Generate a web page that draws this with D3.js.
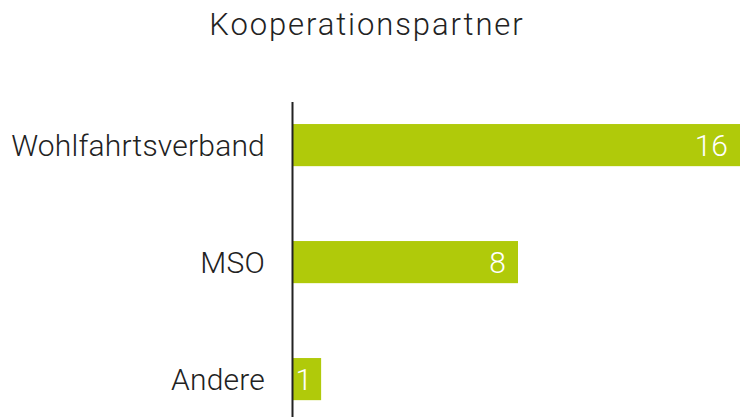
<!DOCTYPE html>
<html>
<head>
<meta charset="utf-8">
<script src="https://cdn.jsdelivr.net/npm/d3@7"></script>
<style>
  html, body { margin: 0; padding: 0; background: #fff; }
  svg { display: block; font-family: Roboto, "Open Sans", sans-serif; font-weight: 300; }
</style>
</head>
<body>
<div id="chart"></div>
<script>
'use strict';

const TITLE = 'Kooperationspartner';
const categories = ['Wohlfahrtsverband', 'MSO', 'Andere'];
const values = [16, 8, 1];

const W = 740, H = 417;
const BAR_COLOR = '#b0ca0a';

const svg = d3.select('#chart').append('svg')
  .attr('width', W)
  .attr('height', H);

svg.append('text')
  .attr('x', 367)
  .attr('y', 35)
  .attr('text-anchor', 'middle')
  .attr('font-size', '31px')
  .attr('letter-spacing', '1.9px')
  .attr('fill', '#222')
  .text(TITLE);

// the longest bar runs slightly past the right edge in the original
const x = d3.scaleLinear().domain([0, 16]).range([293, 743]);
const y = d3.scaleBand()
  .domain(categories)
  .range([86.6, 437.6])
  .paddingInner(0.64)
  .paddingOuter(0.32);

svg.selectAll('rect.bar')
  .data(categories)
  .join('rect')
  .attr('class', 'bar')
  .attr('x', x(0))
  .attr('y', d => y(d))
  .attr('width', (d, i) => x(values[i]) - x(0))
  .attr('height', y.bandwidth())
  .attr('fill', BAR_COLOR);

svg.selectAll('text.val')
  .data(categories)
  .join('text')
  .attr('class', 'val')
  .attr('x', (d, i) => Math.min(x(values[i]), W) - (values[i] < 2 ? 9 : 12))
  .attr('y', d => y(d) + y.bandwidth() / 2)
  .attr('dy', '0.36em')
  .attr('text-anchor', 'end')
  .attr('font-size', '30px')
  .attr('fill', '#fff')
  .text((d, i) => values[i]);

svg.selectAll('text.cat')
  .data(categories)
  .join('text')
  .attr('class', 'cat')
  .attr('x', 265)
  .attr('y', d => y(d) + y.bandwidth() / 2)
  .attr('dy', '0.36em')
  .attr('text-anchor', 'end')
  .attr('font-size', '30px')
  .attr('letter-spacing', '0.2px')
  .attr('fill', '#222')
  .text(d => d);

svg.append('line')
  .attr('x1', 292.5).attr('x2', 292.5)
  .attr('y1', 102).attr('y2', H)
  .attr('stroke', '#222')
  .attr('stroke-width', 2);
</script>
</body>
</html>
